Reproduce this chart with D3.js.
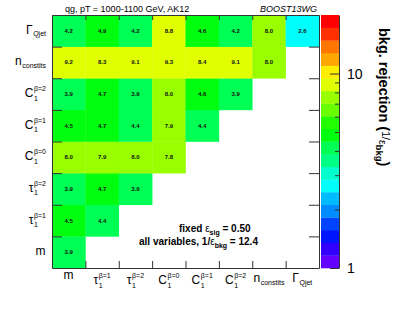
<!DOCTYPE html>
<html>
<head>
<meta charset="utf-8">
<script src="https://cdn.jsdelivr.net/npm/d3@7"></script>
<style>
  body { margin: 0; background: #fff; }
  text { font-family: "Liberation Sans", Arial, Helvetica, sans-serif; }
</style>
</head>
<body>
<div id="chart"></div>
<script>
const WIDTH = 399, HEIGHT = 309;
const PLOT = { left: 52, right: 319, top: 15, bottom: 268 };
const ZBAR = { left: 321, right: 339 };

// variables in axis order (origin bottom-left)
const variables = ["m", "tau1_b1", "tau1_b2", "C1_b0", "C1_b1", "C1_b2", "nconstits", "GammaQjet"];
const labelBase = ["m", "τ", "τ", "C", "C", "C", "n", "Γ"];
const labelSup  = ["", "β=1", "β=2", "β=0", "β=1", "β=2", "", ""];
const labelSub  = ["", "1", "1", "1", "1", "1", "constits", "Qjet"];

// bkg rejection for each pair; one array per row variable, columns follow `variables`
const rowM         = [3.9];
const rowTau1B1    = [4.5, 4.4];
const rowTau1B2    = [3.9, 4.7, 3.9];
const rowC1B0      = [8.0, 7.9, 8.0, 7.8];
const rowC1B1      = [4.5, 4.7, 4.4, 7.9, 4.4];
const rowC1B2      = [3.9, 4.7, 3.9, 8.0, 4.6, 3.9];
const rowNconstits = [9.2, 8.3, 9.1, 9.3, 8.4, 9.1, 8.0];
const rowGammaQjet = [4.2, 4.9, 4.2, 8.8, 4.6, 4.2, 8.0, 2.6];
const rows = [rowM, rowTau1B1, rowTau1B2, rowC1B0, rowC1B1, rowC1B2, rowNconstits, rowGammaQjet];

const zMin = 1, zMax = 20, nContours = 20;
const zTicksMajor = [1, 10];
const zTicksMinor = [2, 3, 4, 5, 6, 7, 8, 9];

const cells = [];
rows.forEach((vals, i) => vals.forEach((v, j) => cells.push({ row: variables[i], col: variables[j], value: v })));

const svg = d3.select("#chart").append("svg")
  .attr("width", WIDTH)
  .attr("height", HEIGHT);

// SCALES
const x = d3.scaleBand().domain(variables).range([PLOT.left, PLOT.right]);
const y = d3.scaleBand().domain(variables).range([PLOT.bottom, PLOT.top]);
const xTick = d3.scaleLinear().domain([0, variables.length]).range([PLOT.left, PLOT.right]);
const yTick = d3.scaleLinear().domain([0, variables.length]).range([PLOT.bottom, PLOT.top]);
const zPos = d3.scaleLog().domain([zMin, zMax]).range([PLOT.bottom, PLOT.top]);
const zLevel = d3.scaleLog().domain([zMin, zMax]).range([0, nContours]);

// root "pretty" palette, 50 hues violet -> red, sampled for 20 contours
const palette = d3.range(nContours).map(k => {
  const ci = Math.floor((k + 0.99) * 50 / nContours);
  const hue = ci >= 49 ? 0 : 280 - (ci + 1) * 5.6;
  return d3.hsl(hue, 1, 0.5).formatHex();
});
const colorOf = v => palette[Math.max(0, Math.min(nContours - 1, Math.floor(zLevel(v))))];

// CELLS
svg.append("g").selectAll("rect")
  .data(cells)
  .enter().append("rect")
  .attr("x", d => x(d.col))
  .attr("y", d => y(d.row))
  .attr("width", x.bandwidth() + 0.3)
  .attr("height", y.bandwidth() + 0.3)
  .attr("fill", d => colorOf(d.value));

svg.append("g").selectAll("text")
  .data(cells)
  .enter().append("text")
  .attr("x", d => x(d.col) + x.bandwidth() / 2)
  .attr("y", d => y(d.row) + y.bandwidth() / 2 + 2)
  .attr("text-anchor", "middle")
  .attr("font-size", 6)
  .attr("font-weight", "bold")
  .attr("fill", "#111")
  .text(d => d.value.toFixed(1));

// AXES (ticks on all four sides, at bin edges)
const inner = d3.range(1, variables.length);
const axisColor = "#333";
function styleAxis(g) {
  g.selectAll("path,line").attr("stroke", axisColor);
  g.selectAll("text").remove();
}
svg.append("g").attr("transform", `translate(0,${PLOT.bottom})`)
  .call(d3.axisBottom(xTick).tickValues(inner).tickSizeInner(-7).tickSizeOuter(0)).call(styleAxis);
svg.append("g").attr("transform", `translate(0,${PLOT.top})`)
  .call(d3.axisTop(xTick).tickValues(inner).tickSizeInner(-5).tickSizeOuter(0)).call(styleAxis);
svg.append("g").attr("transform", `translate(${PLOT.left},0)`)
  .call(d3.axisLeft(yTick).tickValues(inner).tickSizeInner(-10).tickSizeOuter(0)).call(styleAxis);
svg.append("g").attr("transform", `translate(${PLOT.right},0)`)
  .call(d3.axisRight(yTick).tickValues(inner).tickSizeInner(-10).tickSizeOuter(0)).call(styleAxis);

// LABELS with super/subscripts
function compositeLabel(parent, i, baseSize, smallSize) {
  const g = parent.append("g");
  const b = g.append("text").attr("font-size", baseSize).attr("fill", "#000").text(labelBase[i]);
  const w = b.node().getComputedTextLength() + 0.5;
  let w2 = 0;
  if (labelSup[i]) {
    const t = g.append("text").attr("x", w).attr("y", -6).attr("font-size", smallSize).text(labelSup[i]);
    w2 = Math.max(w2, t.node().getComputedTextLength());
  }
  if (labelSub[i]) {
    const t = g.append("text").attr("x", w).attr("y", labelSup[i] ? 3.5 : 2.5).attr("font-size", smallSize).text(labelSub[i]);
    w2 = Math.max(w2, t.node().getComputedTextLength());
  }
  return { g, width: w + w2 };
}

const yLabels = svg.append("g");
variables.forEach((v, i) => {
  const lab = compositeLabel(yLabels, i, 12, 7);
  const cy = y(v) + y.bandwidth() / 2;
  lab.g.attr("transform", `translate(${46 - lab.width},${cy + 3})`);
});

const xLabels = svg.append("g");
variables.forEach((v, i) => {
  const lab = compositeLabel(xLabels, i, 12, 7);
  const cx = x(v) + x.bandwidth() / 2;
  const base = labelSup[i] ? 284 : (labelSub[i] ? 282 : 279);
  lab.g.attr("transform", `translate(${cx - lab.width / 2},${base})`);
});

// COLOUR BAR
const levels = d3.range(nContours);
svg.append("g").selectAll("rect")
  .data(levels)
  .enter().append("rect")
  .attr("x", ZBAR.left)
  .attr("width", ZBAR.right - ZBAR.left)
  .attr("y", k => zPos(Math.pow(zMax, (k + 1) / nContours)))
  .attr("height", k => zPos(Math.pow(zMax, k / nContours)) - zPos(Math.pow(zMax, (k + 1) / nContours)) + 0.3)
  .attr("fill", k => palette[k]);

const zAxisMajor = svg.append("g").attr("transform", `translate(${ZBAR.right},0)`)
  .call(d3.axisRight(zPos).tickValues(zTicksMajor).tickFormat(d3.format("d"))
    .tickSizeInner(-9).tickSizeOuter(0).tickPadding(8));
zAxisMajor.selectAll("path,line").attr("stroke", axisColor);
zAxisMajor.selectAll("text").attr("font-size", 14).attr("fill", "#000")
  .attr("font-family", "'Liberation Sans', Arial, sans-serif");
svg.append("g").attr("transform", `translate(${ZBAR.right},0)`)
  .call(d3.axisRight(zPos).tickValues(zTicksMinor).tickSizeInner(-4).tickSizeOuter(0))
  .call(g => { g.select(".domain").remove(); g.selectAll("line").attr("stroke", axisColor); g.selectAll("text").remove(); });

// z title, rotated
const zTitle = svg.append("text")
  .attr("transform", "translate(379,28) rotate(90)")
  .attr("font-size", 14.5)
  .attr("font-weight", "bold")
  .attr("fill", "#000");
zTitle.append("tspan").text("bkg. rejection (");
zTitle.append("tspan").attr("font-size", 10.5).attr("font-weight", "normal").attr("dy", -3).text("1/");
zTitle.append("tspan").attr("font-size", 10.5).attr("font-weight", "normal").attr("dy", 3).text("ε");
zTitle.append("tspan").attr("font-size", 9.5).attr("dy", 3).text("bkg");
zTitle.append("tspan").attr("dy", -3).text(")");

// TEXTS
svg.append("text").attr("x", 65).attr("y", 11.5).attr("font-size", 9).attr("fill", "#000")
  .text("qg, pT = 1000-1100 GeV, AK12");
svg.append("text").attr("x", 260).attr("y", 11.5).attr("font-size", 9).attr("font-style", "italic").attr("fill", "#000")
  .text("BOOST13WG");

const t1 = svg.append("text").attr("x", 179).attr("y", 231.5).attr("font-size", 10).attr("font-weight", "bold");
t1.append("tspan").text("fixed ");
t1.append("tspan").attr("font-weight", "normal").text("ε");
t1.append("tspan").attr("font-size", 7).attr("dy", 3).text("sig");
t1.append("tspan").attr("dy", -3).text(" = 0.50");

const t2 = svg.append("text").attr("x", 139).attr("y", 245).attr("font-size", 10).attr("font-weight", "bold");
t2.append("tspan").text("all variables, 1/");
t2.append("tspan").attr("font-weight", "normal").text("ε");
t2.append("tspan").attr("font-size", 7).attr("dy", 3).text("bkg");
t2.append("tspan").attr("dy", -3).text(" = 12.4");
</script>
</body>
</html>
